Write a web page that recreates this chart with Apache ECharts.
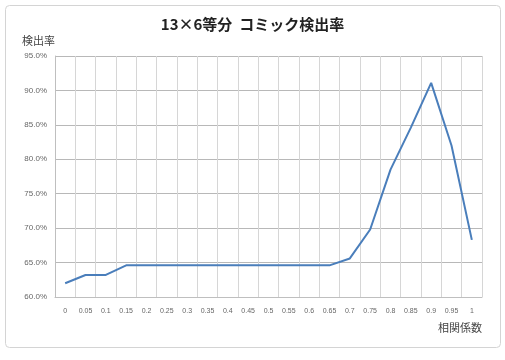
<!DOCTYPE html>
<html><head><meta charset="utf-8">
<script src="https://cdn.jsdelivr.net/npm/echarts@6/dist/echarts.min.js"></script>
<style>html,body{margin:0;padding:0;background:#fff}#c{width:505px;height:360px}</style>
</head><body><div id="c"></div>
<script>
const titleText = '13×6等分  コミック検出率';
const yAxisName = '検出率';
const xAxisName = '相関係数';
const categories = ['0','0.05','0.1','0.15','0.2','0.25','0.3','0.35','0.4','0.45','0.5','0.55','0.6','0.65','0.7','0.75','0.8','0.85','0.9','0.95','1'];
const detectionRate = [62.0,63.2,63.2,64.6,64.6,64.6,64.6,64.6,64.6,64.6,64.6,64.6,64.6,64.6,65.6,69.8,78.5,84.6,91.1,82.0,68.3];
const yMin = 60, yMax = 95, yStep = 5;

const chart = echarts.init(document.getElementById('c'));
chart.setOption({
  animation: false,
  backgroundColor: '#fff',
  graphic: [{
    type: 'rect', left: 5, top: 5, z: -10,
    shape: { width: 495, height: 342, r: 4 },
    style: { fill: '#fff', stroke: '#d4d4d4', lineWidth: 1 }
  }],
  title: {
    text: titleText, left: 'center', top: 12,
    textStyle: { fontFamily: '"Noto Sans CJK JP", sans-serif', fontSize: 15, fontWeight: 'bold', color: '#222' }
  },
  grid: { left: 55, right: 23, top: 56, bottom: 63 },
  xAxis: {
    type: 'category', data: categories, boundaryGap: true,
    name: xAxisName, nameLocation: 'end',
    nameGap: 0,
    nameTextStyle: { fontFamily: '"Noto Sans CJK JP", sans-serif', fontSize: 11, color: '#444', align: 'right', verticalAlign: 'top', padding: [25, 0, 0, 0] },
    axisLine: { lineStyle: { color: '#bfbfbf' } },
    axisTick: { show: false },
    axisLabel: { interval: 0, fontSize: 7, color: '#666', margin: 11, fontFamily: 'Liberation Sans, sans-serif' },
    splitLine: { show: true, interval: 0, lineStyle: { color: '#d6d6d6', width: 1 } }
  },
  yAxis: {
    type: 'value', min: yMin, max: yMax, interval: yStep,
    name: yAxisName, nameLocation: 'end', nameGap: 10,
    nameTextStyle: { fontFamily: '"Noto Sans CJK JP", sans-serif', fontSize: 11, color: '#444', align: 'right', padding: [0, 0, 0, 0] },
    axisLine: { show: true, lineStyle: { color: '#bfbfbf' } },
    axisTick: { show: false },
    axisLabel: { fontSize: 8, color: '#666', margin: 8, formatter: v => v.toFixed(1) + '%', fontFamily: 'Liberation Sans, sans-serif' },
    splitLine: { show: true, lineStyle: { color: '#b8b8b8', width: 1 } }
  },
  series: [{
    type: 'line', data: detectionRate, showSymbol: false, symbol: 'none',
    lineStyle: { color: '#4a7ebb', width: 2 }
  }]
});
</script></body></html>
